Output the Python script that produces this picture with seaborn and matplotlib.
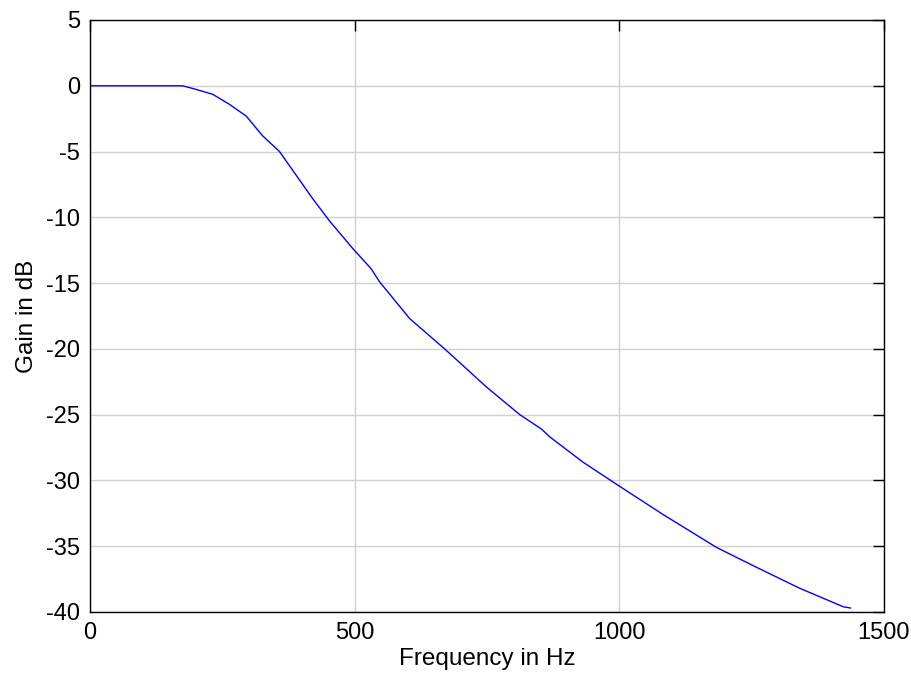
import pandas as pd
import matplotlib
matplotlib.use("Agg")
import matplotlib.pyplot as plt
import seaborn as sns

# значення
freq_hz = [0, 100, 175, 200, 232, 263, 295, 326, 358, 393, 421, 453, 497,
           531, 547, 604, 670, 749, 812, 853, 869, 931, 995, 1083, 1184,
           1259, 1341, 1423, 1437]
gain_db = [0.0, 0.0, 0.0, -0.27, -0.65, -1.4, -2.3, -3.8, -5.0, -7.0, -8.6,
           -10.3, -12.4, -13.9, -14.9, -17.7, -20.0, -22.9, -25.0, -26.1,
           -26.7, -28.6, -30.3, -32.6, -35.1, -36.6, -38.2, -39.6, -39.7]

x_ticks = [0, 500, 1000, 1500]
y_ticks = [5, 0, -5, -10, -15, -20, -25, -30, -35, -40]

df = pd.DataFrame({"freq": freq_hz, "gain": gain_db})

sns.set_style("white")
plt.rcParams["font.family"] = ["Liberation Sans", "DejaVu Sans"]
plt.rcParams["axes.unicode_minus"] = False
plt.rcParams["text.color"] = "black"
plt.rcParams["axes.labelcolor"] = "black"
plt.rcParams["xtick.color"] = "black"
plt.rcParams["ytick.color"] = "black"

fig = plt.figure(figsize=(9.12, 6.86), dpi=100)
ax = fig.add_axes([90 / 912, 74 / 686, 794 / 912, 592 / 686])

sns.lineplot(data=df, x="freq", y="gain", color="#0000ff", linewidth=1.0,
             ax=ax, estimator=None, sort=False)

ax.set_xlim(0, 1500)
ax.set_ylim(-40, 5)
ax.set_xticks(x_ticks)
ax.set_yticks(y_ticks)
ax.grid(True, color="#d0d0d0", linewidth=1.0)
ax.tick_params(direction="in", length=8, width=1, labelsize=17,
               top=True, right=True)
ax.tick_params(axis="x", pad=7)
ax.tick_params(axis="y", pad=7)
for s in ax.spines.values():
    s.set_color("black")
    s.set_linewidth(1.0)
ax.set_xlabel("Frequency in Hz", fontsize=17.5, labelpad=3)
ax.set_ylabel("Gain in dB", fontsize=17.5, labelpad=6)

fig.savefig("out.png", dpi=100)
